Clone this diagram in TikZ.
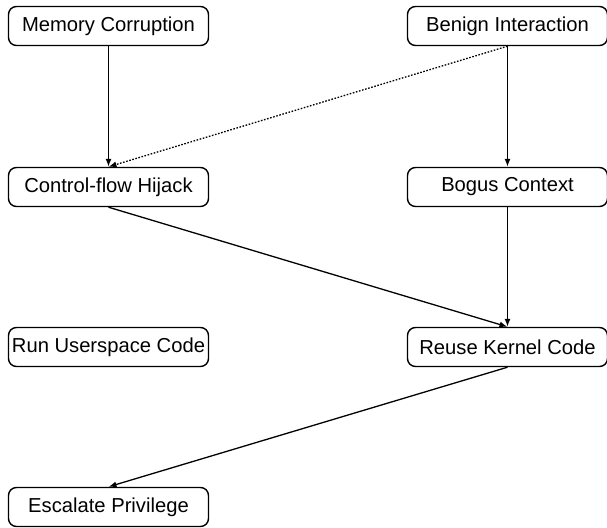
\documentclass[tikz,border=0pt]{standalone}
\usepackage{fontspec}
\setmainfont{Liberation Sans}
\usetikzlibrary{arrows.meta}
\begin{document}
\begin{tikzpicture}[x=1pt,y=-1pt,
  box/.style={draw, line width=1.4pt, rounded corners=8pt, minimum width=200pt, minimum height=39pt, inner sep=0pt, font=\fontsize{20.2}{23}\selectfont},
  conn/.style={line width=1.3pt, -{Latex[length=8pt,width=6pt]}},
  dotconn/.style={conn, dash pattern=on 1.6pt off 1.6pt}]
\useasboundingbox[fill=white] (0,0) rectangle (607,527);
\node[box] (mc) at (108.5,26) {Memory Corruption};
\node[box] (bi) at (507.5,26) {Benign Interaction};
\node[box] (cf) at (108.5,187) {Control-flow Hijack};
\node[box] (bc) at (507.5,187) {Bogus Context};
\node[box] (ru) at (108.5,347) {Run Userspace Code};
\node[box] (rk) at (507.5,347) {Reuse Kernel Code};
\node[box] (ep) at (108.5,507) {Escalate Privilege};
\draw[conn] (mc.south) -- (cf.north);
\draw[conn] (bi.south) -- (bc.north);
\draw[dotconn] (bi.south) -- (cf.north);
\draw[conn] (cf.south) -- (rk.north);
\draw[conn] (bc.south) -- (rk.north);
\draw[conn] (rk.south) -- (ep.north);
\end{tikzpicture}
\end{document}
